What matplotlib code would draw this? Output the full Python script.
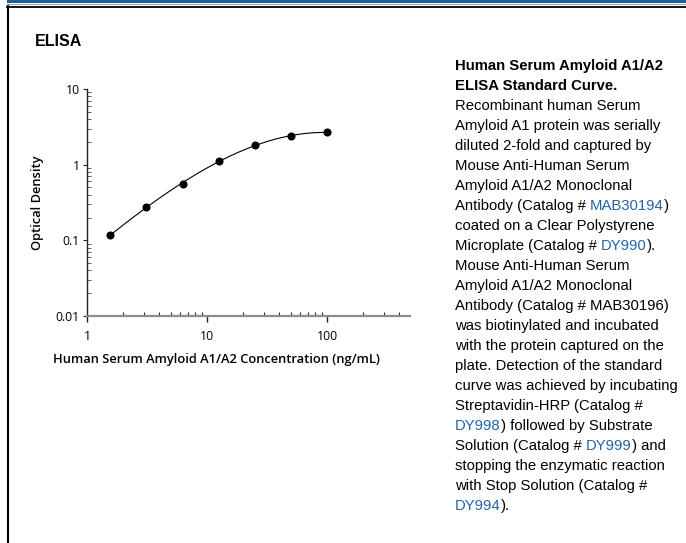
"""
ELISA standard curve panel: log-log plot with a description column on the right.
"""
import numpy as np
import matplotlib
matplotlib.use("Agg")
import matplotlib.pyplot as plt
from matplotlib.lines import Line2D
from matplotlib.patches import Rectangle

# Standard curve data
concentration = [1.5625, 3.125, 6.25, 12.5, 25, 50, 100]
optical_density = [0.117, 0.275, 0.557, 1.13, 1.80, 2.36, 2.69]

x_ticks = [1, 10, 100]
x_tick_labels = ["1", "10", "100"]
y_ticks = [0.01, 0.1, 1, 10]
y_tick_labels = ["0.01", "0.1", "1", "10"]

LINK = "#2164a8"
# description text, one entry per line; each line is a list of (text, colour)
desc_title = ["Human Serum Amyloid A1/A2", "ELISA Standard Curve."]
desc_lines = [
    [("Recombinant human Serum", "k")],
    [("Amyloid A1 protein was serially", "k")],
    [("diluted 2-fold and captured by", "k")],
    [("Mouse Anti-Human Serum", "k")],
    [("Amyloid A1/A2 Monoclonal", "k")],
    [("Antibody (Catalog # ", "k"), ("MAB30194", LINK), (")", "k")],
    [("coated on a Clear Polystyrene", "k")],
    [("Microplate (Catalog # ", "k"), ("DY990", LINK), (").", "k")],
    [("Mouse Anti-Human Serum", "k")],
    [("Amyloid A1/A2 Monoclonal", "k")],
    [("Antibody (Catalog # MAB30196)", "k")],
    [("was biotinylated and incubated", "k")],
    [("with the protein captured on the", "k")],
    [("plate. Detection of the standard", "k")],
    [("curve was achieved by incubating", "k")],
    [("Streptavidin-HRP (Catalog #", "k")],
    [("DY998", LINK), (") followed by Substrate", "k")],
    [("Solution (Catalog # ", "k"), ("DY999", LINK), (") and", "k")],
    [("stopping the enzymatic reaction", "k")],
    [("with Stop Solution (Catalog #", "k")],
    [("DY994", LINK), (").", "k")],
]

W, H = 686, 543
fig = plt.figure(figsize=(W / 100, H / 100), dpi=100)


def fx(px):
    return px / W


def fy(py):
    return 1 - py / H


# page frame: blue band, thin grey rule, black rule and left black edge
fig.add_artist(Rectangle((fx(7), fy(2.8)), 1, 2.8 / H, color="#1d5f9e",
                         transform=fig.transFigure, lw=0))
fig.add_artist(Line2D([fx(7), 1], [fy(3.9), fy(3.9)], color="#999999", lw=0.6))
fig.add_artist(Line2D([fx(7), 1], [fy(6.5), fy(6.5)], color="black", lw=1.3))
fig.add_artist(Line2D([fx(8), fx(8)], [fy(6), 0], color="black", lw=1.5))

fig.text(fx(35), fy(42), "ELISA", fontsize=11.5, fontweight="bold",
         family="Liberation Sans", va="center", ha="left")

# chart
ax = fig.add_axes([fx(87), fy(316), fx(410) - fx(87), fy(89) - fy(316)])
ax.set_xscale("log")
ax.set_yscale("log")
ax.set_xlim(1, 10 ** (323 / 120))
ax.set_ylim(0.01, 10)

# smooth curve fitted in log-log space
lx = np.log10(concentration)
ly = np.log10(optical_density)
coef = np.polyfit(lx, ly, 3)
xs = np.linspace(lx[0], lx[-1], 200)
ax.plot(10 ** xs, 10 ** np.polyval(coef, xs), color="black", lw=0.8)
ax.plot(concentration, optical_density, "o", color="black", ms=4.8)

for s in ["top", "right"]:
    ax.spines[s].set_visible(False)
ax.spines["left"].set_color("#222222")
ax.spines["left"].set_linewidth(1.0)
ax.spines["bottom"].set_color("#8c8c8c")
ax.spines["bottom"].set_linewidth(1.6)

tick_font = dict(family="Open Sans", size=8.8)
ax.set_xticks(x_ticks)
ax.set_xticklabels(x_tick_labels, **tick_font)
ax.set_yticks(y_ticks)
ax.set_yticklabels(y_tick_labels, **tick_font)
ax.tick_params(axis="x", which="major", direction="out", length=4, width=1,
               color="#222222", pad=6)
ax.tick_params(axis="x", which="minor", direction="in", length=3, width=0.8,
               color="#222222")
ax.tick_params(axis="y", which="major", direction="out", length=3, width=0.8,
               color="#222222", pad=2)
ax.tick_params(axis="y", which="minor", direction="in", length=3, width=0.6,
               color="#444444")
ax.xaxis.set_minor_formatter(matplotlib.ticker.NullFormatter())
ax.yaxis.set_minor_formatter(matplotlib.ticker.NullFormatter())

lab_font = dict(family="Open Sans", size=9.3, weight="semibold")
fig.text(fx(216), fy(359), "Human Serum Amyloid A1/A2 Concentration (ng/mL)",
         ha="center", va="center", **lab_font)
fig.text(fx(38), fy(203), "Optical Density", rotation=90,
         ha="center", va="center", **lab_font)

# description column
renderer = fig.canvas.get_renderer()
x0 = 455
y0 = 66
step = 20
txt_font = dict(family="Liberation Sans", size=10.7, va="center", ha="left")
for i, line in enumerate(desc_title):
    fig.text(fx(x0), fy(y0 + i * step), line, fontweight="bold", **txt_font)
for i, line in enumerate(desc_lines):
    y = fy(y0 + (i + 2) * step)
    x = fx(x0)
    for seg, col in line:
        t = fig.text(x, y, seg, color=col, **txt_font)
        bb = t.get_window_extent(renderer)
        x = bb.x1 / fig.bbox.width

fig.savefig("out.png", dpi=100)
